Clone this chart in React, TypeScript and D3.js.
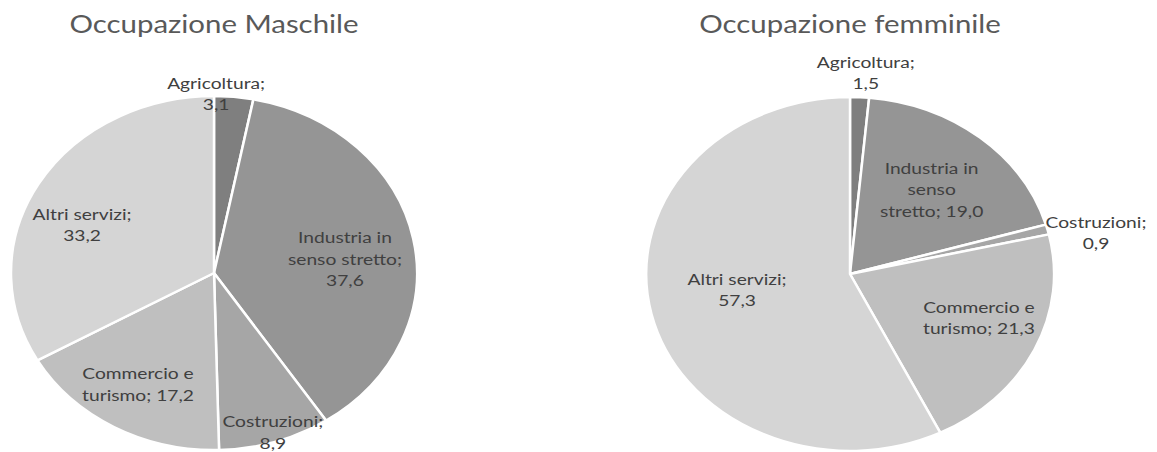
import React from "react";
import * as d3 from "d3";

const categories = ["Agricoltura", "Industria in senso stretto", "Costruzioni", "Commercio e turismo", "Altri servizi"];
const maleValues = [3.1, 37.6, 8.9, 17.2, 33.2];
const femaleValues = [1.5, 19.0, 0.9, 21.3, 57.3];
const titles = ["Occupazione Maschile", "Occupazione femminile"];
const colors = ["#7f7f7f", "#959595", "#a6a6a6", "#bfbfbf", "#d5d5d5"];

// label line templates ({v} = formatted value)
const maleLabelLines = [
  ["Agricoltura;", "{v}"],
  ["Industria in", "senso stretto;", "{v}"],
  ["Costruzioni;", "{v}"],
  ["Commercio e", "turismo; {v}"],
  ["Altri servizi;", "{v}"],
];
const femaleLabelLines = [
  ["Agricoltura;", "{v}"],
  ["Industria in", "senso", "stretto; {v}"],
  ["Costruzioni;", "{v}"],
  ["Commercio e", "turismo; {v}"],
  ["Altri servizi;", "{v}"],
];
// label placement: [angle offset from slice mid-angle (deg), radial factor]
const maleLabelLayout = [[-5, 1.01], [4.2, 0.65], [-0.4, 0.946], [1.2, 0.733], [-7.6, 0.704]];
const femaleLabelLayout = [[1.2, 1.139], [0.5, 0.621], [3.7, 1.228], [-3.9, 0.679], [3.9, 0.561]];

const W = 1157;
const H = 452;
const fmt = (v: number) => d3.format(".1f")(v).replace(".", ",");
const SX = 1.2;

type PieProps = {
  values: number[];
  title: string;
  cx: number;
  cy: number;
  rx: number;
  ry: number;
  titleY: number;
  lines: string[][];
  layout: number[][];
};

function Pie({ values, title, cx, cy, rx, ry, titleY, lines, layout }: PieProps) {
  const pie = d3.pie<number>().sort(null).value((d) => d);
  const arcs = pie(values);
  const arc = d3.arc<d3.PieArcDatum<number>>().innerRadius(0).outerRadius(1);
  const lh = 21.5;
  return (
    <g>
      <text
        transform={`translate(${cx},${titleY}) scale(${SX},1)`}
        textAnchor="middle"
        fontFamily="Lato, 'Open Sans', sans-serif"
        fontSize={24.5}
        fill="#595959"
      >
        {title}
      </text>
      <g transform={`translate(${cx},${cy}) scale(${rx},${ry})`}>
        {arcs.map((a, i) => (
          <path
            key={i}
            d={arc(a) || ""}
            fill={colors[i]}
            stroke="#ffffff"
            strokeWidth={2.5}
            vectorEffect="non-scaling-stroke"
            strokeLinejoin="round"
          />
        ))}
      </g>
      {arcs.map((a, i) => {
        const mid = (a.startAngle + a.endAngle) / 2 + (layout[i][0] * Math.PI) / 180;
        const r = layout[i][1];
        const lx = cx + rx * r * Math.sin(mid);
        const ly = cy - ry * r * Math.cos(mid);
        const ls = lines[i].map((s) => s.replace("{v}", fmt(values[i])));
        return (
          <g key={"l" + i}>
            {ls.map((s, j) => (
              <text
                key={j}
                transform={`translate(${lx},${ly + (j - (ls.length - 1) / 2) * lh + 5.5}) scale(${SX},1)`}
                textAnchor="middle"
                fontFamily="Lato, 'Open Sans', sans-serif"
                fontSize={16}
                fill="#404040"
              >
                {s}
              </text>
            ))}
          </g>
        );
      })}
    </g>
  );
}

export default function App() {
  return (
    <svg
      width={W}
      height={H}
      style={{ position: "absolute", left: 0, top: 0, display: "block", background: "#ffffff" }}
    >
      <Pie
        values={maleValues}
        title={titles[0]}
        cx={214}
        cy={273}
        rx={203}
        ry={177}
        titleY={33}
        lines={maleLabelLines}
        layout={maleLabelLayout}
      />
      <Pie
        values={femaleValues}
        title={titles[1]}
        cx={850}
        cy={274}
        rx={204}
        ry={177}
        titleY={33}
        lines={femaleLabelLines}
        layout={femaleLabelLayout}
      />
    </svg>
  );
}
